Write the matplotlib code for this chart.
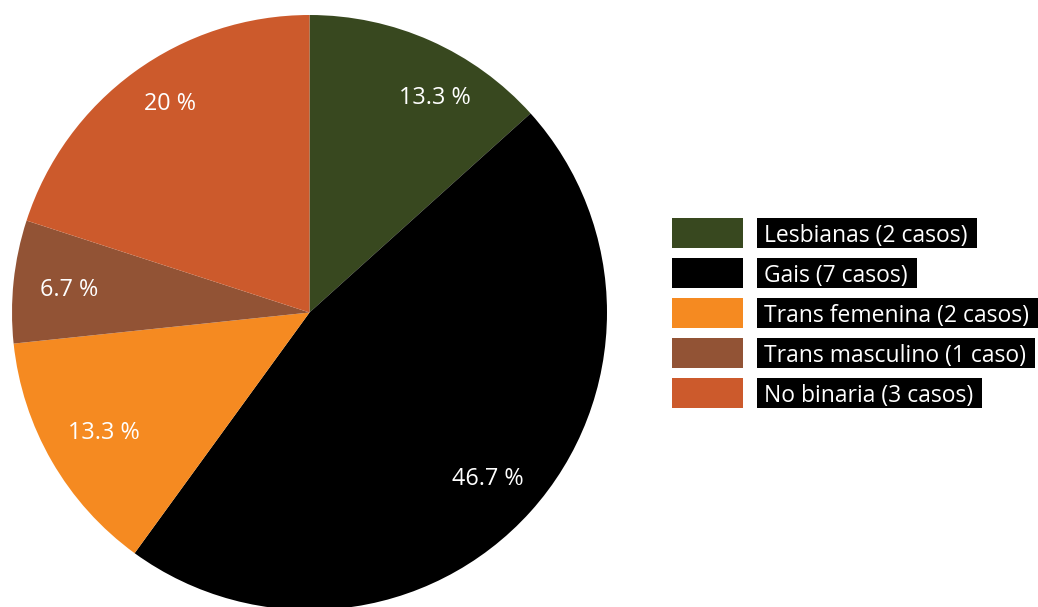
import matplotlib
matplotlib.use("Agg")
import matplotlib.pyplot as plt
from matplotlib.patches import Rectangle

categories = ["Lesbianas", "Gais", "Trans femenina", "Trans masculino", "No binaria"]
cases = [2, 7, 2, 1, 3]
legend_labels = ["Lesbianas (2 casos)", "Gais (7 casos)", "Trans femenina (2 casos)",
                 "Trans masculino (1 caso)", "No binaria (3 casos)"]
colors = ["#38481f", "#000000", "#f58a21", "#925335", "#cc5a2c"]
# small pixel nudges for the percentage labels (x right, y up)
label_nudge = [(25, -11), (-5, -1), (8, 3), (5, -3), (6, 9)]

W, H = 1038, 607
plt.rcParams["font.family"] = ["Open Sans", "DejaVu Sans"]

fig = plt.figure(figsize=(W / 100, H / 100), dpi=100)
ax = fig.add_axes([0, 0, 1, 1])


def pct_label(p):
    s = f"{p:.1f}"
    if s.endswith(".0"):
        s = s[:-2]
    return f"{s} %"


wedges, _, autotexts = ax.pie(
    cases, colors=colors, startangle=90, counterclock=False,
    center=(309.5, H - 312.5), radius=297.5, frame=True,
    autopct=pct_label, pctdistance=0.83,
    wedgeprops=dict(linewidth=0),
    textprops=dict(color="white", fontsize=16.8))

for t, (dx, dy) in zip(autotexts, label_nudge):
    x, y = t.get_position()
    t.set_position((x + dx, y + dy))

# legend: swatches plus black label boxes
box_h = 30
y0 = 218
step = 40
ax.set_xlim(0, W)
ax.set_ylim(0, H)
fig.canvas.draw()
renderer = fig.canvas.get_renderer()
inv = ax.transData.inverted()
for i, (lab, col) in enumerate(zip(legend_labels, colors)):
    top = y0 + i * step
    ax.add_patch(Rectangle((672, H - top - box_h), 71, box_h, facecolor=col,
                           edgecolor="none"))
    t = ax.text(764, H - top - box_h / 2, lab, color="white", fontsize=16.5,
                va="center_baseline", ha="left", zorder=5)
    bb = t.get_window_extent(renderer=renderer)
    x1 = inv.transform((bb.x1, 0))[0]
    ax.add_patch(Rectangle((757, H - top - box_h), x1 - 757 + 9, box_h,
                           facecolor="black", edgecolor="none", zorder=4))

ax.set_xlim(0, W)
ax.set_ylim(0, H)
ax.set_aspect("auto")
ax.axis("off")
fig.savefig("out.png", dpi=100)
